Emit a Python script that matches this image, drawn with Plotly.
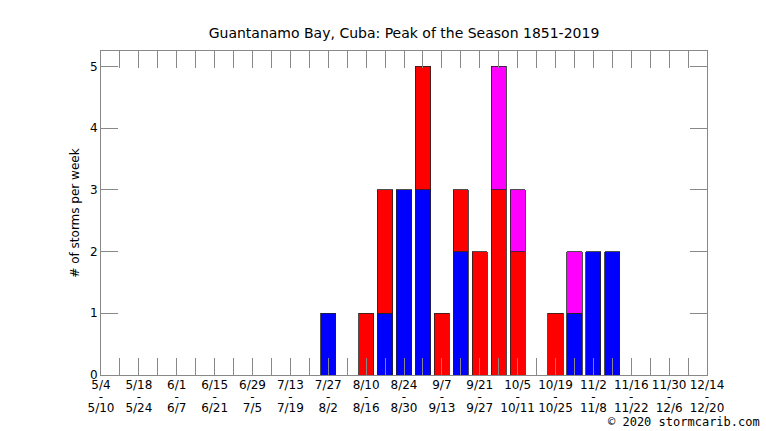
import plotly.graph_objects as go

# weekly bins, 5/4 - 12/20
week_start = ["5/4", "5/11", "5/18", "5/25", "6/1", "6/8", "6/15", "6/22", "6/29",
              "7/6", "7/13", "7/20", "7/27", "8/3", "8/10", "8/17", "8/24", "8/31",
              "9/7", "9/14", "9/21", "9/28", "10/5", "10/12", "10/19", "10/26",
              "11/2", "11/9", "11/16", "11/23", "11/30", "12/7", "12/14"]
week_end = ["5/10", "5/17", "5/24", "5/31", "6/7", "6/14", "6/21", "6/28", "7/5",
            "7/12", "7/19", "7/26", "8/2", "8/9", "8/16", "8/23", "8/30", "9/6",
            "9/13", "9/20", "9/27", "10/4", "10/11", "10/18", "10/25", "11/1",
            "11/8", "11/15", "11/22", "11/29", "12/6", "12/13", "12/20"]

# storms per week, stacked bottom to top: blue, red, magenta
blue_counts = [0, 0, 0, 0, 0, 0, 0, 0, 0, 0, 0, 0, 1, 0, 0, 1, 3, 3,
               0, 2, 0, 0, 0, 0, 0, 1, 2, 2, 0, 0, 0, 0, 0]
red_counts = [0, 0, 0, 0, 0, 0, 0, 0, 0, 0, 0, 0, 0, 0, 1, 2, 0, 2,
              1, 1, 2, 3, 2, 0, 1, 0, 0, 0, 0, 0, 0, 0, 0]
magenta_counts = [0, 0, 0, 0, 0, 0, 0, 0, 0, 0, 0, 0, 0, 0, 0, 0, 0, 0,
                  0, 0, 0, 2, 1, 0, 0, 1, 0, 0, 0, 0, 0, 0, 0]

weeks = list(range(len(week_start)))


def big(s):
    # 12px glyphs on a smaller base font, so the three lines sit close together
    return '<span style="font-size:12px">%s</span>' % s


ticktext = []
for i in weeks:
    if i % 2 == 0:
        ticktext.append(big(week_start[i]) + "<br>" + big("-") + "<br>" + big(week_end[i]))
    else:
        ticktext.append("")

fig = go.Figure()
for counts, color in [(blue_counts, "#0000ff"), (red_counts, "#ff0000"),
                      (magenta_counts, "#ff00ff")]:
    fig.add_trace(go.Bar(
        x=weeks,
        y=[v if v else None for v in counts],
        width=0.8,
        marker=dict(color=color, line=dict(color="#222222", width=0.8)),
        showlegend=False,
    ))

# plot area in pixels: x 101..707, y 51..375.5
L, R, T, B = 101, 707, 51, 375.5
W, H = 766, 431

fig.update_layout(
    width=W, height=H,
    barmode="stack",
    margin=dict(l=L, r=W - R, t=T, b=H - B, pad=0),
    paper_bgcolor="white",
    plot_bgcolor="white",
    font=dict(family="DejaVu Sans", size=12, color="black"),
    title=dict(text="Guantanamo Bay, Cuba: Peak of the Season 1851-2019",
               font=dict(size=14, color="black"),
               x=(L + R) / 2 / W, xanchor="center",
               y=1 - 33 / H, yanchor="middle"),
    xaxis=dict(range=[0, 32], tickvals=weeks, ticktext=ticktext,
               ticks="inside", ticklen=17, tickcolor="#888888", tickwidth=1,
               showline=True, linecolor="#888888", linewidth=1, mirror="allticks",
               showgrid=False, zeroline=False, ticklabelstandoff=3,
               tickfont=dict(size=8.7, color="black"), tickangle=0),
    yaxis=dict(range=[0, 5.25], tickvals=[0, 1, 2, 3, 4, 5],
               ticks="inside", ticklen=17, tickcolor="#888888", tickwidth=1,
               showline=True, linecolor="#888888", linewidth=1, mirror="allticks",
               showgrid=False, zeroline=False,
               tickfont=dict(size=12, color="black"),
               title=dict(text="# of storms per week", font=dict(size=12),
                          standoff=7)),
    annotations=[dict(text="© 2020 stormcarib.com", xref="paper", yref="paper",
                      x=(762 - L) / (R - L), y=(B - 423) / (B - T),
                      xanchor="right", yanchor="middle", showarrow=False,
                      font=dict(family="DejaVu Sans Mono", size=12, color="black"))],
)

fig.write_html("out.html", config={"displayModeBar": False},
               post_script="document.body.style.margin='0px';")
